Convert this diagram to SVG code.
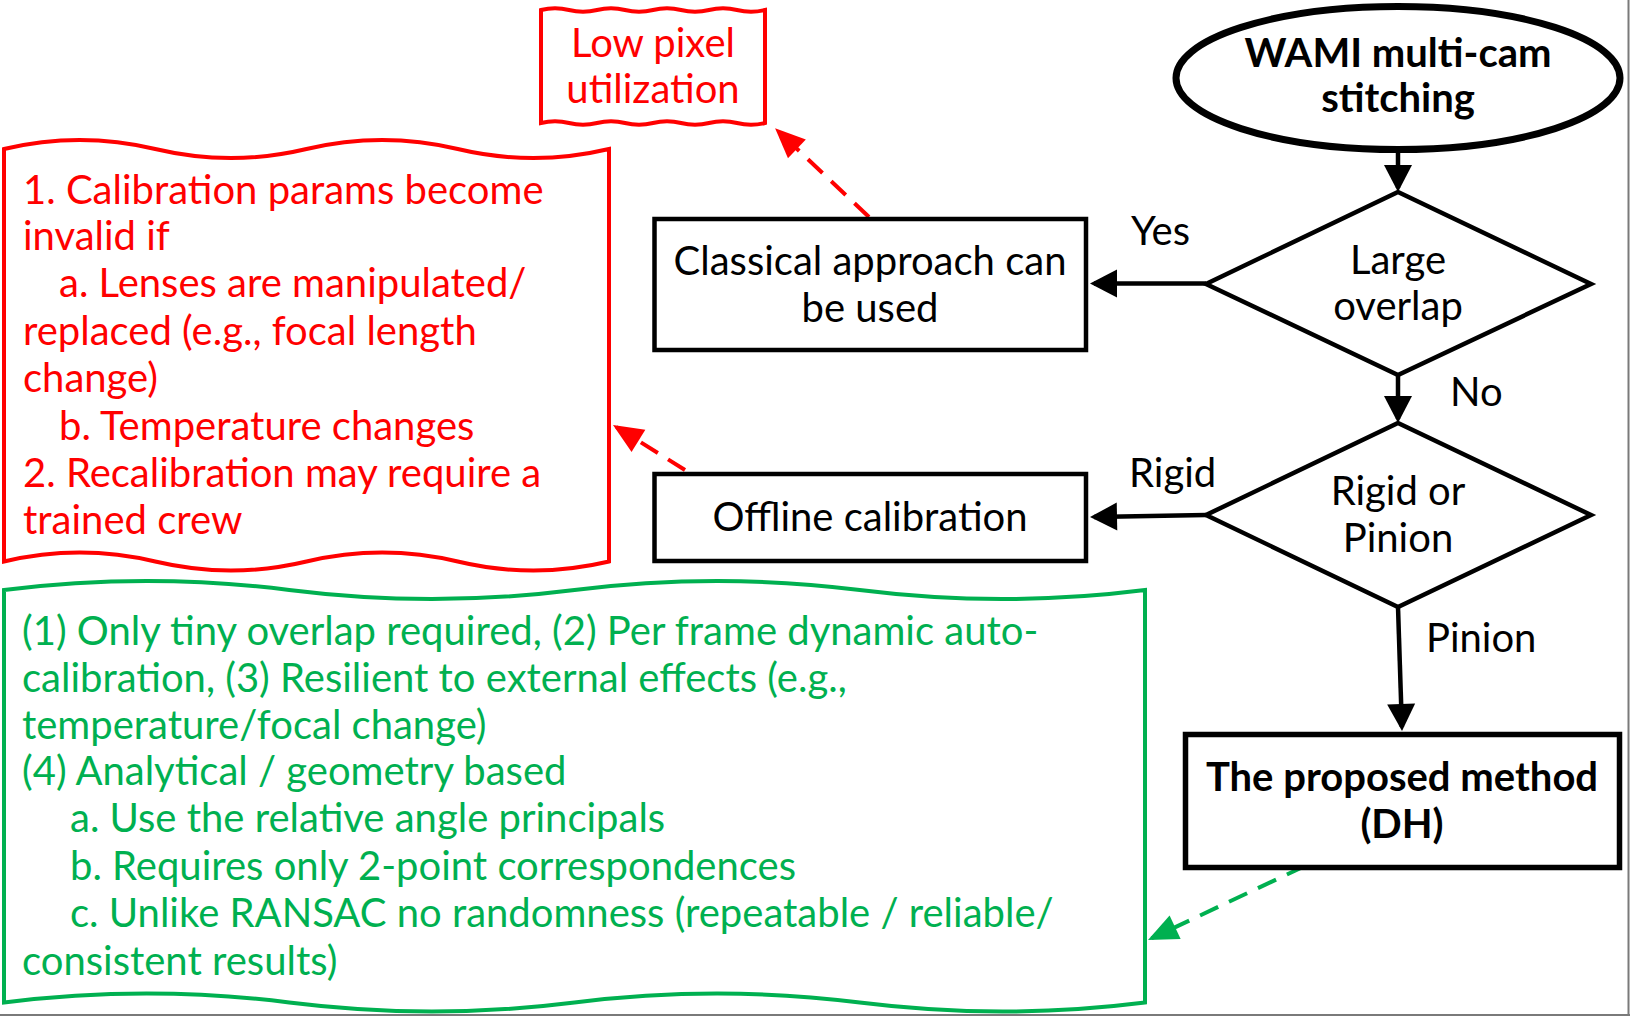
<svg xmlns="http://www.w3.org/2000/svg" width="1630" height="1016" viewBox="0 0 1630 1016">
<style>
  .t { font-family: Lato, "Liberation Sans", sans-serif; font-size: 40px; fill: #000; }
  .b { font-weight: bold; }
  .c { text-anchor: middle; }
  .red { fill: #FF0000; }
  .grn { fill: #00B050; }
  .shape { fill: #fff; stroke: #000; stroke-width: 4.5; }
  .wred { fill: #fff; stroke: #FF0000; stroke-width: 4; }
  .wgrn { fill: #fff; stroke: #00B050; stroke-width: 4; }
  .solid { fill: none; stroke: #000; stroke-width: 4.5; marker-end: url(#ah); }
  .dred { fill: none; stroke: #FF0000; stroke-width: 4; stroke-dasharray: 20 12; marker-end: url(#ahr); }
  .dgrn { fill: none; stroke: #00B050; stroke-width: 4; stroke-dasharray: 20 12; marker-end: url(#ahg); }
</style>
<defs>
  <marker id="ah" markerUnits="userSpaceOnUse" orient="auto" refX="0" refY="0" markerWidth="40" markerHeight="40" overflow="visible">
    <path d="M4,0 L-23,-14 L-23,14 Z" fill="#000"/>
  </marker>
  <marker id="ahr" markerUnits="userSpaceOnUse" orient="auto" refX="0" refY="0" markerWidth="40" markerHeight="40" overflow="visible">
    <path d="M4,0 L-26,-13 L-26,13 Z" fill="#FF0000"/>
  </marker>
  <marker id="ahg" markerUnits="userSpaceOnUse" orient="auto" refX="0" refY="0" markerWidth="40" markerHeight="40" overflow="visible">
    <path d="M4,0 L-26,-13 L-26,13 Z" fill="#00B050"/>
  </marker>
</defs>
<rect width="1630" height="1016" fill="#fff"/>
<line x1="1628.5" y1="0" x2="1628.5" y2="1016" stroke="#7a7a7a" stroke-width="2"/>
<line x1="0" y1="1015" x2="1630" y2="1015" stroke="#7a7a7a" stroke-width="2"/>

<g id="connectors">
  <line class="solid" x1="1398" y1="153" x2="1398" y2="188"/>
  <line class="solid" x1="1398" y1="375" x2="1398" y2="419"/>
  <line class="solid" x1="1206" y1="283.5" x2="1094" y2="283.5"/>
  <line class="solid" x1="1206" y1="515" x2="1094" y2="517"/>
  <line class="solid" x1="1398" y1="607" x2="1401.9" y2="727"/>
  <line class="dred" x1="869" y1="217" x2="778" y2="131"/>
  <line class="dred" x1="685" y1="470" x2="616.4" y2="427.1"/>
  <line class="dgrn" x1="1305" y1="866" x2="1151.6" y2="938.3"/>
  <text class="t" x="1131" y="245">Yes</text>
  <text class="t" x="1450" y="406">No</text>
  <text class="t" x="1129" y="487">Rigid</text>
  <text class="t" x="1426" y="652">Pinion</text>
</g>

<g id="start">
  <ellipse class="shape" style="stroke-width:7" cx="1398" cy="78" rx="222" ry="71.5"/>
  <text class="t b c" x="1398" y="67">WAMI multi-cam</text>
  <text class="t b c" x="1398" y="112">stitching</text>
</g>

<g id="large-overlap">
  <polygon class="shape" points="1398,192 1591,284 1398,375 1206,284"/>
  <text class="t c" x="1398" y="274">Large</text>
  <text class="t c" x="1398" y="320">overlap</text>
</g>

<g id="rigid-or-pinion">
  <polygon class="shape" points="1398,423 1591,515 1398,607 1206,515"/>
  <text class="t c" x="1398" y="505">Rigid or</text>
  <text class="t c" x="1398" y="552">Pinion</text>
</g>

<g id="classical">
  <rect class="shape" style="stroke-width:4.5" x="654.5" y="219" width="431.5" height="131"/>
  <text class="t c" x="870" y="275">Classical approach can</text>
  <text class="t c" x="870" y="322">be used</text>
</g>

<g id="offline">
  <rect class="shape" style="stroke-width:4.5" x="654.5" y="474" width="431.5" height="87"/>
  <text class="t c" x="870" y="531">Offline calibration</text>
</g>

<g id="proposed">
  <rect class="shape" style="stroke-width:5.5" x="1185.5" y="734.5" width="434" height="133"/>
  <text class="t b c" x="1402" y="791">The proposed method</text>
  <text class="t b c" x="1402" y="838">(DH)</text>
</g>

<g id="low-pixel">
  <path class="wred" d="M541,10 Q555,6.5 569,10 T597,10 T625,10 T653,10 T681,10 T709,10 T737,10 T765,10 L765,123 Q751,126.5 737,123 T709,123 T681,123 T653,123 T625,123 T597,123 T569,123 T541,123 Z"/>
  <text class="t c red" x="653" y="57">Low pixel</text>
  <text class="t c red" x="653" y="103">utilization</text>
</g>

<g id="calibration-issues">
  <path class="wred" d="M4,149 Q79.6,131 155.25,149 T306.5,149 T457.75,149 T609,149 L609,561.5 Q533.4,579.5 457.75,561.5 T306.5,561.5 T155.25,561.5 T4,561.5 Z"/>
  <text class="t red" x="23" y="204">1. Calibration params become</text>
  <text class="t red" x="23" y="250">invalid if</text>
  <text class="t red" x="59" y="297">a. Lenses are manipulated/</text>
  <text class="t red" x="23" y="345">replaced (e.g., focal length</text>
  <text class="t red" x="23" y="392">change)</text>
  <text class="t red" x="59" y="440">b. Temperature changes</text>
  <text class="t red" x="23" y="487">2. Recalibration may require a</text>
  <text class="t red" x="23" y="534">trained crew</text>
</g>

<g id="advantages">
  <path class="wgrn" d="M4,590 Q146.6,572 289.25,590 T574.5,590 T859.75,590 T1145,590 L1145,1002.5 Q1002.4,1020.5 859.75,1002.5 T574.5,1002.5 T289.25,1002.5 T4,1002.5 Z"/>
  <text class="t grn" x="22" y="645">(1) Only tiny overlap required, (2) Per frame dynamic auto-</text>
  <text class="t grn" x="22" y="692">calibration, (3) Resilient to external effects (e.g.,</text>
  <text class="t grn" x="22" y="739">temperature/focal change)</text>
  <text class="t grn" x="22" y="785">(4) Analytical / geometry based</text>
  <text class="t grn" x="70" y="832">a. Use the relative angle principals</text>
  <text class="t grn" x="70" y="880">b. Requires only 2-point correspondences</text>
  <text class="t grn" x="70" y="927">c. Unlike RANSAC no randomness (repeatable / reliable/</text>
  <text class="t grn" x="22" y="975">consistent results)</text>
</g>
</svg>
